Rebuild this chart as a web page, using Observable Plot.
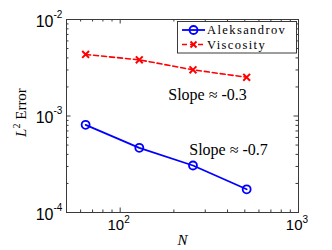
<!DOCTYPE html>
<html><head><meta charset="utf-8">
<script src="https://cdn.jsdelivr.net/npm/d3@7"></script>
<script src="https://cdn.jsdelivr.net/npm/@observablehq/plot@0.6"></script>
<style>
body{margin:0;background:#fff;}
#wrap{position:relative;width:332px;height:250px;}
#legend{position:absolute;left:177px;top:21px;}
g[aria-label="slope"] text{letter-spacing:1px;}
</style>
</head><body>
<div id="wrap"></div>
<script>
// ---- data ----
const N = [64, 128, 256, 512];
const aleksandrov = [8.1e-4, 4.68e-4, 3.07e-4, 1.74e-4];
const viscosity = [4.34e-3, 3.82e-3, 3.01e-3, 2.52e-3];
const seriesNames = ["Aleksandrov", "Viscosity"];
const seriesColors = ["#0000ff", "#ff0000"];
const xMajor = [100, 1000];
const xExp = ["2", "3"];
const xMinor = [50, 60, 70, 80, 90, 200, 300, 400, 500, 600, 700, 800, 900];
const yMajor = [1e-4, 1e-3, 1e-2];
const yExp = ["-4", "-3", "-2"];
const yMinor = [2e-4,3e-4,4e-4,5e-4,6e-4,7e-4,8e-4,9e-4,2e-3,3e-3,4e-3,5e-3,6e-3,7e-3,8e-3,9e-3];
const slopeText = ["Slope \u2248 -0.3", "Slope \u2248 -0.7"];
const slopeX = [186, 244];
const slopeY = [1.45e-3, 3.9e-4];

const rowsA = N.map((n, i) => ({N: n, err: aleksandrov[i]}));
const rowsV = N.map((n, i) => ({N: n, err: viscosity[i]}));
const slopes = slopeText.map((t, i) => ({t, x: slopeX[i], y: slopeY[i]}));

const W = 332, H = 250, mt = 19, mb = 38, ml = 66, mr = 34;
const fh = H - mt - mb, fw = W - ml - mr;
const maj = 4.5, mnr = 2.5;
const axisColor = "#3a3a3a";
const sans = "'Liberation Sans', Arial, sans-serif";
const serif = "'Liberation Serif', 'Times New Roman', serif";

const chart = Plot.plot({
  width: W, height: H,
  marginTop: mt, marginBottom: mb, marginLeft: ml, marginRight: mr,
  style: {background: "#fff", overflow: "visible"},
  x: {type: "log", domain: [50, 1000], axis: null},
  y: {type: "log", domain: [1e-4, 1e-2], axis: null},
  marks: [
    Plot.frame({stroke: axisColor, strokeWidth: 1}),
    // inward ticks, bottom & top
    Plot.tickX(xMajor, {x: d => d, insetTop: fh - maj, stroke: axisColor}),
    Plot.tickX(xMajor, {x: d => d, insetBottom: fh - maj, stroke: axisColor}),
    Plot.tickX(xMinor, {x: d => d, insetTop: fh - mnr, stroke: axisColor}),
    Plot.tickX(xMinor, {x: d => d, insetBottom: fh - mnr, stroke: axisColor}),
    // inward ticks, left & right
    Plot.tickY(yMajor, {y: d => d, insetRight: fw - maj, stroke: axisColor}),
    Plot.tickY(yMajor, {y: d => d, insetLeft: fw - maj, stroke: axisColor}),
    Plot.tickY(yMinor, {y: d => d, insetRight: fw - mnr, stroke: axisColor}),
    Plot.tickY(yMinor, {y: d => d, insetLeft: fw - mnr, stroke: axisColor}),
    // tick labels
    Plot.text(xMajor, {x: d => d, frameAnchor: "bottom", text: () => "10", dy: 17, dx: 4, textAnchor: "end", fontSize: 15, fontFamily: sans, fill: "#000"}),
    Plot.text(xMajor, {x: d => d, frameAnchor: "bottom", text: (d, i) => xExp[i], dy: 10, dx: 4, textAnchor: "start", fontSize: 10, fontFamily: sans, fill: "#000"}),
    Plot.text(yMajor, {y: d => d, frameAnchor: "left", text: () => "10", dx: -13, dy: 2, textAnchor: "end", fontSize: 16, fontFamily: sans, fill: "#000"}),
    Plot.text(yMajor, {y: d => d, frameAnchor: "left", text: (d, i) => yExp[i], dx: -13, dy: -5, textAnchor: "start", fontSize: 10, fontFamily: sans, fill: "#000"}),
    // x label
    Plot.text(["N"], {frameAnchor: "bottom", text: d => d, dy: 32, fontSize: 15, fontStyle: "italic", fontFamily: serif, fill: "#000"}),
    // series
    Plot.line(rowsV, {x: "N", y: "err", stroke: seriesColors[1], strokeWidth: 1.6, strokeDasharray: "5,3"}),
    Plot.dot(rowsV, {x: "N", y: "err", symbol: "times", r: 3.2, stroke: seriesColors[1], strokeWidth: 2}),
    Plot.line(rowsA, {x: "N", y: "err", stroke: seriesColors[0], strokeWidth: 1.8}),
    Plot.dot(rowsA, {x: "N", y: "err", symbol: "circle", r: 4, stroke: seriesColors[0], strokeWidth: 1.8, fill: "none"}),
    // annotations
    Plot.text(slopes, {x: "x", y: "y", text: "t", textAnchor: "start", lineAnchor: "bottom", fontSize: 16, fontFamily: serif, fill: "#000", ariaLabel: "slope"})
  ]
});

document.getElementById("wrap").appendChild(chart);

// y-axis label with italic L and superscript 2
const svg = d3.select(chart);
const yl = svg.append("text")
  .attr("transform", `translate(26,${(mt + H - mb) / 2 - 3}) rotate(-90)`)
  .attr("text-anchor", "middle")
  .attr("font-family", serif)
  .attr("font-size", 15)
  .attr("fill", "#000");
yl.append("tspan").attr("font-style", "italic").text("L");
yl.append("tspan").attr("font-size", 10).attr("dy", -6).text("2");
yl.append("tspan").attr("dy", 6).text(" Error");

// legend
const lg = d3.select("#wrap").append("svg").attr("id", "legend").attr("width", 121).attr("height", 33);
lg.append("rect").attr("x", 0.5).attr("y", 0.5).attr("width", 119).attr("height", 31.5)
  .attr("fill", "#fff").attr("stroke", axisColor);
seriesNames.forEach((name, i) => {
  const cy = 9 + i * 14.5;
  lg.append("line").attr("x1", 5).attr("x2", 28).attr("y1", cy).attr("y2", cy)
    .attr("stroke", seriesColors[i]).attr("stroke-width", i ? 1.6 : 1.8)
    .attr("stroke-dasharray", i ? "5,3" : null);
  if (i === 0) {
    lg.append("circle").attr("cx", 16.5).attr("cy", cy).attr("r", 4).attr("fill", "none")
      .attr("stroke", seriesColors[i]).attr("stroke-width", 1.8);
  } else {
    lg.append("path").attr("d", `M${16.5-3},${cy-3}L${16.5+3},${cy+3}M${16.5-3},${cy+3}L${16.5+3},${cy-3}`)
      .attr("stroke", seriesColors[i]).attr("stroke-width", 2);
  }
  lg.append("text").attr("x", 30).attr("y", cy + 4.3).attr("font-family", serif)
    .attr("font-size", 12.5).attr("letter-spacing", "1.4px").attr("fill", "#000").text(name);
});
</script>
</body></html>
